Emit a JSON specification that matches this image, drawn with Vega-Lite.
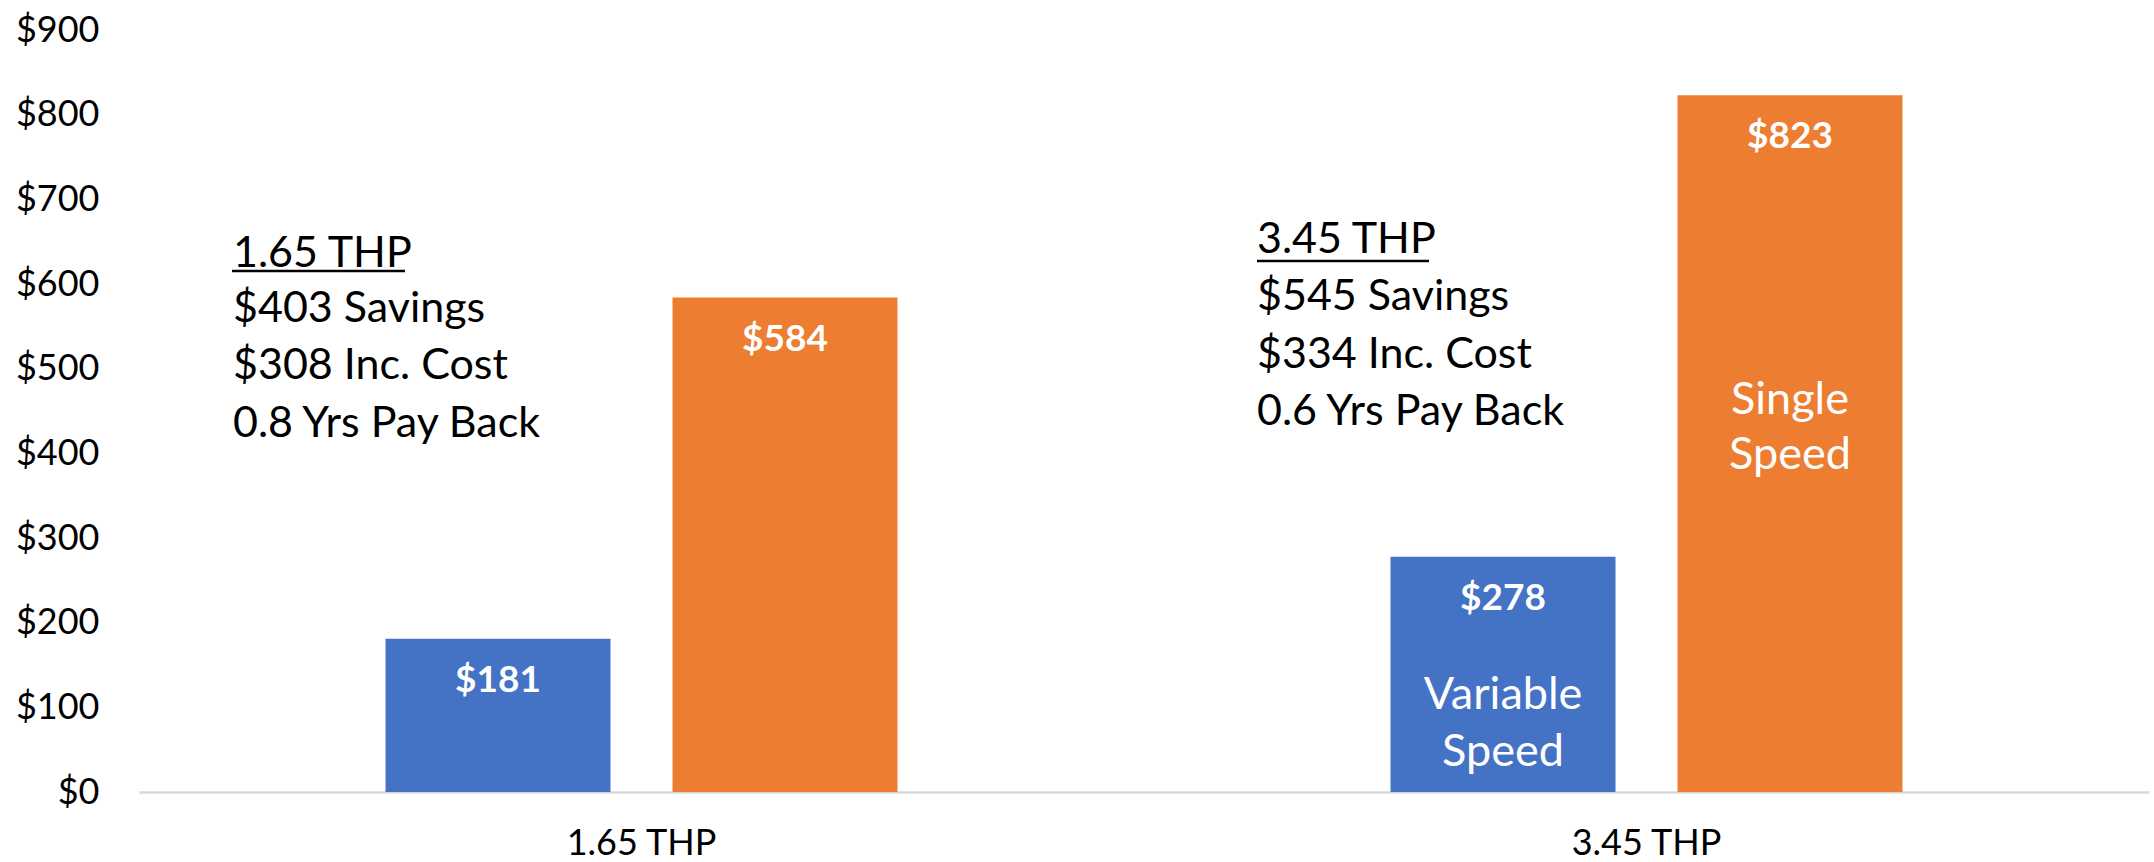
{
  "$schema": "https://vega.github.io/schema/vega-lite/v6.json",
  "width": 2010,
  "height": 762,
  "autosize": {"type": "none"},
  "padding": {"left": 139, "top": 30, "right": 5, "bottom": 70},
  "background": "white",
  "config": {
    "view": {"stroke": null},
    "font": "Lato",
    "axis": {"labelFont": "Lato", "labelColor": "#000000", "title": null}
  },
  "layer": [
    {
      "data": {"values": [
        {"system": "1.65 THP", "type": "Variable Speed", "cost": 181},
        {"system": "1.65 THP", "type": "Single Speed", "cost": 584},
        {"system": "3.45 THP", "type": "Variable Speed", "cost": 278},
        {"system": "3.45 THP", "type": "Single Speed", "cost": 823}
      ]},
      "encoding": {
        "x": {
          "field": "system",
          "type": "nominal",
          "scale": {"paddingInner": 0, "paddingOuter": 0},
          "axis": {
            "labelAngle": 0,
            "labelFontSize": 36,
            "ticks": false,
            "tickSize": 0,
            "labelPadding": 51,
            "labelBaseline": "middle",
            "domainColor": "#d9d9d9",
            "domainWidth": 2.5,
            "grid": false
          }
        },
        "y": {
          "field": "cost",
          "type": "quantitative",
          "scale": {"domain": [0, 900], "nice": false},
          "axis": {
            "values": [0, 100, 200, 300, 400, 500, 600, 700, 800, 900],
            "format": "$,.0f",
            "labelFontSize": 36,
            "grid": false,
            "domain": false,
            "ticks": false,
            "tickSize": 0,
            "labelPadding": 40
          }
        },
        "xOffset": {
          "field": "type",
          "type": "nominal",
          "sort": ["Variable Speed", "Single Speed"],
          "scale": {"paddingInner": 0.216, "paddingOuter": 0.859}
        }
      },
      "layer": [
        {
          "mark": {"type": "bar"},
          "encoding": {
            "color": {
              "field": "type",
              "type": "nominal",
              "scale": {"domain": ["Variable Speed", "Single Speed"], "range": ["#4472C4", "#ED7D31"]},
              "legend": null
            }
          }
        },
        {
          "mark": {"type": "text", "color": "white", "fontWeight": "bold", "fontSize": 37, "baseline": "middle", "dy": 42},
          "encoding": {
            "text": {"field": "cost", "type": "quantitative", "format": "$,.0f"}
          }
        },
        {
          "transform": [{"filter": "datum.system == '3.45 THP' && datum.type == 'Variable Speed'"}],
          "mark": {"type": "text", "color": "white", "fontSize": 45, "baseline": "middle", "lineBreak": " ", "lineHeight": 57, "dy": 138},
          "encoding": {
            "text": {"field": "type", "type": "nominal"}
          }
        },
        {
          "transform": [{"filter": "datum.system == '3.45 THP' && datum.type == 'Single Speed'"}],
          "mark": {"type": "text", "color": "white", "fontSize": 45, "baseline": "middle", "lineBreak": " ", "lineHeight": 55, "dy": 305},
          "encoding": {
            "text": {"field": "type", "type": "nominal"}
          }
        }
      ]
    },
    {
      "data": {"values": [
        {"system": "1.65 THP", "head": "1.65 THP", "body": "$403 Savings\n$308 Inc. Cost\n0.8 Yrs Pay Back"}
      ]},
      "layer": [
        {
          "mark": {"type": "text", "align": "left", "baseline": "middle", "fontSize": 43, "lineBreak": "\n", "lineHeight": 57.5, "dx": 94, "color": "#000000"},
          "encoding": {
            "x": {"field": "system", "type": "nominal", "bandPosition": 0},
            "y": {"datum": 635.5, "type": "quantitative"},
            "text": {"field": "head", "type": "nominal"}
          }
        },
        {
          "mark": {"type": "text", "align": "left", "baseline": "middle", "fontSize": 43, "lineBreak": "\n", "lineHeight": 57.5, "dx": 94, "color": "#000000"},
          "encoding": {
            "x": {"field": "system", "type": "nominal", "bandPosition": 0},
            "y": {"datum": 570.5, "type": "quantitative"},
            "text": {"field": "body", "type": "nominal"}
          }
        },
        {
          "mark": {"type": "rule", "color": "#000000", "strokeWidth": 2.5, "xOffset": 93, "x2Offset": -236.5},
          "encoding": {
            "x": {"field": "system", "type": "nominal", "bandPosition": 0},
            "x2": {"field": "system"},
            "y": {"datum": 615.3, "type": "quantitative"}
          }
        }
      ]
    },
    {
      "data": {"values": [
        {"system": "3.45 THP", "head": "3.45 THP", "body": "$545 Savings\n$334 Inc. Cost\n0.6 Yrs Pay Back"}
      ]},
      "layer": [
        {
          "mark": {"type": "text", "align": "left", "baseline": "middle", "fontSize": 43, "lineBreak": "\n", "lineHeight": 57, "dx": 113, "color": "#000000"},
          "encoding": {
            "x": {"field": "system", "type": "nominal", "bandPosition": 0},
            "y": {"datum": 652, "type": "quantitative"},
            "text": {"field": "head", "type": "nominal"}
          }
        },
        {
          "mark": {"type": "text", "align": "left", "baseline": "middle", "fontSize": 43, "lineBreak": "\n", "lineHeight": 57.5, "dx": 113, "color": "#000000"},
          "encoding": {
            "x": {"field": "system", "type": "nominal", "bandPosition": 0},
            "y": {"datum": 584.5, "type": "quantitative"},
            "text": {"field": "body", "type": "nominal"}
          }
        },
        {
          "mark": {"type": "rule", "color": "#000000", "strokeWidth": 2.5, "xOffset": 113, "x2Offset": -217.5},
          "encoding": {
            "x": {"field": "system", "type": "nominal", "bandPosition": 0},
            "x2": {"field": "system"},
            "y": {"datum": 627.1, "type": "quantitative"}
          }
        }
      ]
    }
  ]
}
